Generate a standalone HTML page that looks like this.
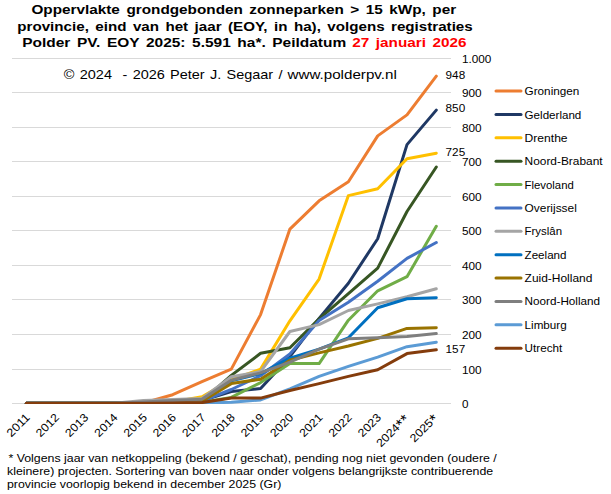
<!DOCTYPE html><html><head><meta charset="utf-8"><title>chart</title><style>html,body{margin:0;padding:0;background:#fff}svg{display:block}text{font-family:"Liberation Sans",sans-serif;fill:#000}</style></head><body>
<svg width="611" height="494" viewBox="0 0 611 494">
<rect width="611" height="494" fill="#fff"/>
<defs><clipPath id="pc"><rect x="0" y="0" width="611" height="404"/></clipPath></defs>
<line x1="12" y1="403.5" x2="451" y2="403.5" stroke="#D9D9D9" stroke-width="1"/>
<line x1="12" y1="369.5" x2="451" y2="369.5" stroke="#D9D9D9" stroke-width="1"/>
<line x1="12" y1="334.5" x2="451" y2="334.5" stroke="#D9D9D9" stroke-width="1"/>
<line x1="12" y1="299.5" x2="451" y2="299.5" stroke="#D9D9D9" stroke-width="1"/>
<line x1="12" y1="265.5" x2="451" y2="265.5" stroke="#D9D9D9" stroke-width="1"/>
<line x1="12" y1="230.5" x2="451" y2="230.5" stroke="#D9D9D9" stroke-width="1"/>
<line x1="12" y1="196.5" x2="451" y2="196.5" stroke="#D9D9D9" stroke-width="1"/>
<line x1="12" y1="161.5" x2="451" y2="161.5" stroke="#D9D9D9" stroke-width="1"/>
<line x1="12" y1="127.5" x2="451" y2="127.5" stroke="#D9D9D9" stroke-width="1"/>
<line x1="12" y1="92.5" x2="451" y2="92.5" stroke="#D9D9D9" stroke-width="1"/>
<line x1="12" y1="58.5" x2="451" y2="58.5" stroke="#D9D9D9" stroke-width="1"/>
<text x="31.4" y="14.2" font-size="13.5" textLength="424.8" lengthAdjust="spacingAndGlyphs" font-weight="bold" word-spacing="2">Oppervlakte grondgebonden zonneparken &gt; 15 kWp, per</text>
<text x="17.3" y="30.7" font-size="13.5" textLength="455.4" lengthAdjust="spacingAndGlyphs" font-weight="bold" word-spacing="2">provincie, eind van het jaar (EOY, in ha), volgens registraties</text>
<text x="22.2" y="46.7" font-size="13.5" textLength="324" lengthAdjust="spacingAndGlyphs" font-weight="bold" word-spacing="2">Polder PV. EOY 2025: 5.591 ha*. Peildatum</text>
<text x="352.3" y="46.7" font-size="13.5" textLength="114.3" lengthAdjust="spacingAndGlyphs" font-weight="bold" word-spacing="2" style="fill:#FF0000">27 januari 2026</text>
<text x="63.8" y="79.2" font-size="13.5" textLength="218.7" lengthAdjust="spacingAndGlyphs" word-spacing="1.2">© 2024  - 2026 Peter J. Segaar /</text>
<text x="287.5" y="79.2" font-size="13.5" textLength="109.3" lengthAdjust="spacingAndGlyphs" >www.polderpv.nl</text>
<polyline points="26.3,403.3 55.6,403.3 84.9,403.3 114.2,403.3 143.5,403.0 172.7,394.7 202.0,381.6 231.3,369.1 260.6,314.6 289.9,229.1 319.1,200.8 348.4,181.8 377.7,135.9 407.0,114.9 436.3,76.2" fill="none" stroke="#ED7D31" stroke-width="3" stroke-linecap="round" stroke-linejoin="round" clip-path="url(#pc)"/>
<polyline points="26.3,403.3 55.6,403.3 84.9,403.3 114.2,403.3 143.5,403.0 172.7,402.3 202.0,400.5 231.3,391.6 260.6,388.5 289.9,356.7 319.1,318.4 348.4,283.2 377.7,238.7 407.0,144.6 436.3,110.1" fill="none" stroke="#1F3864" stroke-width="3" stroke-linecap="round" stroke-linejoin="round" clip-path="url(#pc)"/>
<polyline points="26.3,403.3 55.6,403.3 84.9,403.3 114.2,403.3 143.5,403.0 172.7,401.9 202.0,396.7 231.3,379.8 260.6,369.1 289.9,320.8 319.1,279.1 348.4,195.6 377.7,188.7 407.0,158.7 436.3,153.2" fill="none" stroke="#FFC000" stroke-width="3" stroke-linecap="round" stroke-linejoin="round" clip-path="url(#pc)"/>
<polyline points="26.3,403.3 55.6,403.3 84.9,403.3 114.2,403.3 143.5,403.0 172.7,402.3 202.0,401.2 231.3,375.4 260.6,353.3 289.9,347.8 319.1,318.8 348.4,293.6 377.7,268.1 407.0,211.5 436.3,167.0" fill="none" stroke="#375623" stroke-width="3" stroke-linecap="round" stroke-linejoin="round" clip-path="url(#pc)"/>
<polyline points="26.3,403.3 55.6,403.3 84.9,403.3 114.2,403.3 143.5,403.3 172.7,403.0 202.0,402.3 231.3,397.4 260.6,382.6 289.9,363.6 319.1,363.6 348.4,320.2 377.7,290.8 407.0,276.7 436.3,226.3" fill="none" stroke="#70AD47" stroke-width="3" stroke-linecap="round" stroke-linejoin="round" clip-path="url(#pc)"/>
<polyline points="26.3,403.3 55.6,403.3 84.9,403.3 114.2,403.3 143.5,403.0 172.7,402.3 202.0,401.2 231.3,389.5 260.6,375.7 289.9,354.0 319.1,320.5 348.4,302.2 377.7,281.2 407.0,258.4 436.3,242.5" fill="none" stroke="#4472C4" stroke-width="3" stroke-linecap="round" stroke-linejoin="round" clip-path="url(#pc)"/>
<polyline points="26.3,403.3 55.6,403.3 84.9,403.3 114.2,403.3 143.5,400.5 172.7,399.5 202.0,398.5 231.3,376.7 260.6,371.6 289.9,331.5 319.1,324.6 348.4,310.5 377.7,303.9 407.0,296.7 436.3,288.8" fill="none" stroke="#A5A5A5" stroke-width="3" stroke-linecap="round" stroke-linejoin="round" clip-path="url(#pc)"/>
<polyline points="26.3,403.3 55.6,403.3 84.9,403.3 114.2,403.3 143.5,403.3 172.7,402.6 202.0,401.6 231.3,380.9 260.6,373.6 289.9,358.1 319.1,349.1 348.4,337.8 377.7,307.7 407.0,298.8 436.3,297.7" fill="none" stroke="#0070C0" stroke-width="3" stroke-linecap="round" stroke-linejoin="round" clip-path="url(#pc)"/>
<polyline points="26.3,403.3 55.6,403.3 84.9,403.3 114.2,403.3 143.5,403.0 172.7,402.3 202.0,401.2 231.3,383.6 260.6,379.2 289.9,360.2 319.1,352.9 348.4,346.0 377.7,338.4 407.0,328.4 436.3,327.7" fill="none" stroke="#997300" stroke-width="3" stroke-linecap="round" stroke-linejoin="round" clip-path="url(#pc)"/>
<polyline points="26.3,403.3 55.6,403.3 84.9,403.3 114.2,403.3 143.5,401.9 172.7,400.5 202.0,399.2 231.3,380.2 260.6,372.9 289.9,362.2 319.1,349.1 348.4,338.8 377.7,337.8 407.0,336.4 436.3,333.6" fill="none" stroke="#7F7F7F" stroke-width="3" stroke-linecap="round" stroke-linejoin="round" clip-path="url(#pc)"/>
<polyline points="26.3,403.3 55.6,403.3 84.9,403.3 114.2,403.3 143.5,403.3 172.7,403.3 202.0,403.0 231.3,402.3 260.6,399.9 289.9,388.8 319.1,376.4 348.4,366.4 377.7,357.1 407.0,346.7 436.3,342.2" fill="none" stroke="#5B9BD5" stroke-width="3" stroke-linecap="round" stroke-linejoin="round" clip-path="url(#pc)"/>
<polyline points="26.3,403.3 55.6,403.3 84.9,403.3 114.2,403.3 143.5,403.3 172.7,403.0 202.0,402.6 231.3,398.1 260.6,398.1 289.9,390.5 319.1,383.6 348.4,376.4 377.7,369.8 407.0,353.6 436.3,349.8" fill="none" stroke="#843C0C" stroke-width="3" stroke-linecap="round" stroke-linejoin="round" clip-path="url(#pc)"/>
<text x="461.9" y="407.6" font-size="10.5" textLength="6.5" lengthAdjust="spacingAndGlyphs" >0</text>
<text x="461.9" y="373.6" font-size="10.5" textLength="19.7" lengthAdjust="spacingAndGlyphs" >100</text>
<text x="461.9" y="338.6" font-size="10.5" textLength="19.7" lengthAdjust="spacingAndGlyphs" >200</text>
<text x="461.9" y="303.6" font-size="10.5" textLength="19.7" lengthAdjust="spacingAndGlyphs" >300</text>
<text x="461.9" y="269.6" font-size="10.5" textLength="19.7" lengthAdjust="spacingAndGlyphs" >400</text>
<text x="461.9" y="234.6" font-size="10.5" textLength="19.7" lengthAdjust="spacingAndGlyphs" >500</text>
<text x="461.9" y="200.6" font-size="10.5" textLength="19.7" lengthAdjust="spacingAndGlyphs" >600</text>
<text x="461.9" y="165.6" font-size="10.5" textLength="19.7" lengthAdjust="spacingAndGlyphs" >700</text>
<text x="461.9" y="131.6" font-size="10.5" textLength="19.7" lengthAdjust="spacingAndGlyphs" >800</text>
<text x="461.9" y="96.6" font-size="10.5" textLength="19.7" lengthAdjust="spacingAndGlyphs" >900</text>
<text x="461.9" y="62.6" font-size="10.5" textLength="29.5" lengthAdjust="spacingAndGlyphs" >1.000</text>
<text x="445.6" y="78.8" font-size="10" textLength="19.6" lengthAdjust="spacingAndGlyphs" >948</text>
<text x="445.6" y="112.4" font-size="10" textLength="19.6" lengthAdjust="spacingAndGlyphs" >850</text>
<text x="445.6" y="155.9" font-size="10" textLength="19.6" lengthAdjust="spacingAndGlyphs" >725</text>
<text x="445.6" y="352.9" font-size="10" textLength="19.6" lengthAdjust="spacingAndGlyphs" >157</text>
<g transform="rotate(-45 30.6 418.2)"><text x="3.1" y="418.2" font-size="11.5" textLength="27.5" lengthAdjust="spacingAndGlyphs">2011</text></g>
<g transform="rotate(-45 59.9 418.2)"><text x="32.4" y="418.2" font-size="11.5" textLength="27.5" lengthAdjust="spacingAndGlyphs">2012</text></g>
<g transform="rotate(-45 89.2 418.2)"><text x="61.7" y="418.2" font-size="11.5" textLength="27.5" lengthAdjust="spacingAndGlyphs">2013</text></g>
<g transform="rotate(-45 118.5 418.2)"><text x="91.0" y="418.2" font-size="11.5" textLength="27.5" lengthAdjust="spacingAndGlyphs">2014</text></g>
<g transform="rotate(-45 147.8 418.2)"><text x="120.3" y="418.2" font-size="11.5" textLength="27.5" lengthAdjust="spacingAndGlyphs">2015</text></g>
<g transform="rotate(-45 177.0 418.2)"><text x="149.5" y="418.2" font-size="11.5" textLength="27.5" lengthAdjust="spacingAndGlyphs">2016</text></g>
<g transform="rotate(-45 206.3 418.2)"><text x="178.8" y="418.2" font-size="11.5" textLength="27.5" lengthAdjust="spacingAndGlyphs">2017</text></g>
<g transform="rotate(-45 235.6 418.2)"><text x="208.1" y="418.2" font-size="11.5" textLength="27.5" lengthAdjust="spacingAndGlyphs">2018</text></g>
<g transform="rotate(-45 264.9 418.2)"><text x="237.4" y="418.2" font-size="11.5" textLength="27.5" lengthAdjust="spacingAndGlyphs">2019</text></g>
<g transform="rotate(-45 294.2 418.2)"><text x="266.7" y="418.2" font-size="11.5" textLength="27.5" lengthAdjust="spacingAndGlyphs">2020</text></g>
<g transform="rotate(-45 323.4 418.2)"><text x="295.9" y="418.2" font-size="11.5" textLength="27.5" lengthAdjust="spacingAndGlyphs">2021</text></g>
<g transform="rotate(-45 352.7 418.2)"><text x="325.2" y="418.2" font-size="11.5" textLength="27.5" lengthAdjust="spacingAndGlyphs">2022</text></g>
<g transform="rotate(-45 382.0 418.2)"><text x="354.5" y="418.2" font-size="11.5" textLength="27.5" lengthAdjust="spacingAndGlyphs">2023</text></g>
<g transform="rotate(-45 409.5 419.3)"><text x="369.2" y="419.3" font-size="11.5" textLength="27.5" lengthAdjust="spacingAndGlyphs">2024</text><text x="396.7" y="421.8" font-size="16">*</text><text x="403.1" y="421.8" font-size="16">*</text></g>
<g transform="rotate(-45 438.5 419.0)"><text x="404.6" y="419.0" font-size="11.5" textLength="27.5" lengthAdjust="spacingAndGlyphs">2025</text><text x="432.1" y="421.5" font-size="16">*</text></g>
<line x1="496" y1="91.1" x2="521" y2="91.1" stroke="#ED7D31" stroke-width="3" stroke-linecap="round"/>
<text x="524.6" y="95.1" font-size="11.5" textLength="54.7" lengthAdjust="spacingAndGlyphs" >Groningen</text>
<line x1="496" y1="114.5" x2="521" y2="114.5" stroke="#1F3864" stroke-width="3" stroke-linecap="round"/>
<text x="524.6" y="118.5" font-size="11.5" textLength="56.7" lengthAdjust="spacingAndGlyphs" >Gelderland</text>
<line x1="496" y1="137.8" x2="521" y2="137.8" stroke="#FFC000" stroke-width="3" stroke-linecap="round"/>
<text x="524.6" y="141.8" font-size="11.5" textLength="43" lengthAdjust="spacingAndGlyphs" >Drenthe</text>
<line x1="496" y1="161.2" x2="521" y2="161.2" stroke="#375623" stroke-width="3" stroke-linecap="round"/>
<text x="524.6" y="165.2" font-size="11.5" textLength="78" lengthAdjust="spacingAndGlyphs" >Noord-Brabant</text>
<line x1="496" y1="184.6" x2="521" y2="184.6" stroke="#70AD47" stroke-width="3" stroke-linecap="round"/>
<text x="524.6" y="188.6" font-size="11.5" textLength="49.2" lengthAdjust="spacingAndGlyphs" >Flevoland</text>
<line x1="496" y1="207.9" x2="521" y2="207.9" stroke="#4472C4" stroke-width="3" stroke-linecap="round"/>
<text x="524.6" y="211.9" font-size="11.5" textLength="52.2" lengthAdjust="spacingAndGlyphs" >Overijssel</text>
<line x1="496" y1="231.3" x2="521" y2="231.3" stroke="#A5A5A5" stroke-width="3" stroke-linecap="round"/>
<text x="524.6" y="235.3" font-size="11.5" textLength="37.4" lengthAdjust="spacingAndGlyphs" >Fryslân</text>
<line x1="496" y1="254.7" x2="521" y2="254.7" stroke="#0070C0" stroke-width="3" stroke-linecap="round"/>
<text x="524.6" y="258.7" font-size="11.5" textLength="41.9" lengthAdjust="spacingAndGlyphs" >Zeeland</text>
<line x1="496" y1="278.1" x2="521" y2="278.1" stroke="#997300" stroke-width="3" stroke-linecap="round"/>
<text x="524.6" y="282.1" font-size="11.5" textLength="67.8" lengthAdjust="spacingAndGlyphs" >Zuid-Holland</text>
<line x1="496" y1="301.4" x2="521" y2="301.4" stroke="#7F7F7F" stroke-width="3" stroke-linecap="round"/>
<text x="524.6" y="305.4" font-size="11.5" textLength="75.5" lengthAdjust="spacingAndGlyphs" >Noord-Holland</text>
<line x1="496" y1="324.8" x2="521" y2="324.8" stroke="#5B9BD5" stroke-width="3" stroke-linecap="round"/>
<text x="524.6" y="328.8" font-size="11.5" textLength="42.1" lengthAdjust="spacingAndGlyphs" >Limburg</text>
<line x1="496" y1="348.2" x2="521" y2="348.2" stroke="#843C0C" stroke-width="3" stroke-linecap="round"/>
<text x="524.6" y="352.2" font-size="11.5" textLength="37.7" lengthAdjust="spacingAndGlyphs" >Utrecht</text>
<text x="8.4" y="461.5" font-size="11" textLength="488.4" lengthAdjust="spacingAndGlyphs" >* Volgens jaar van netkoppeling (bekend / geschat), pending nog niet gevonden (oudere /</text>
<text x="7" y="474.8" font-size="11" textLength="486.2" lengthAdjust="spacingAndGlyphs" >kleinere) projecten. Sortering van boven naar onder volgens belangrijkste contribuerende</text>
<text x="7" y="488.1" font-size="11" textLength="274.4" lengthAdjust="spacingAndGlyphs" >provincie voorlopig bekend in december 2025 (Gr)</text>
</svg></body></html>
